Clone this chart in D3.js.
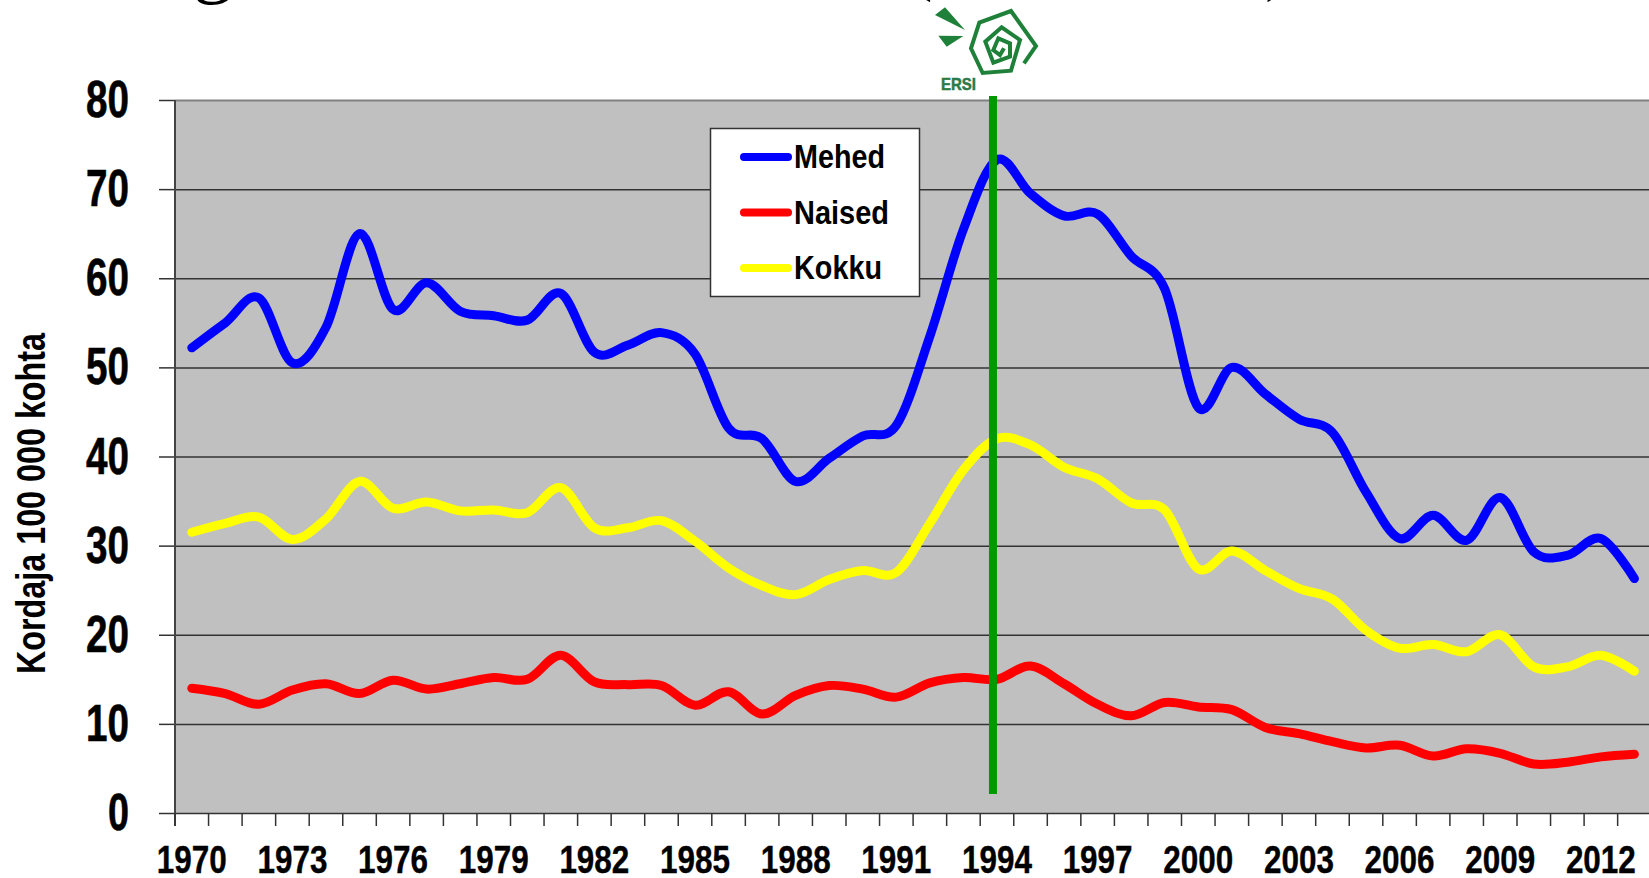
<!DOCTYPE html>
<html><head><meta charset="utf-8">
<style>html,body{margin:0;padding:0;background:#fff;overflow:hidden}svg{display:block}
text{font-family:"Liberation Sans",Arial,sans-serif;font-weight:bold;fill:#000}</style>
<script src="https://cdn.jsdelivr.net/npm/d3@7"></script></head><body>
<script>
const years = d3.range(1970, 2014);
const yTicks = [0,10,20,30,40,50,60,70,80];
const mehed = [52.2,55,57.8,50.5,54.5,65,56.5,59.5,56.3,55.8,55.3,58.3,51.7,52.5,53.9,51.5,43.2,42,37.2,39.8,42.3,43.5,53.5,65.5,73.3,69.5,67,67.2,62.5,58.8,45.5,50,47,44.2,42.7,36,30.8,33.4,30.6,35.4,29.3,28.9,30.8,26.3];
const naised = [14,13.4,12.2,13.8,14.5,13.4,14.9,13.9,14.5,15.2,15,17.7,14.7,14.4,14.3,12.1,13.6,11.1,13.2,14.3,13.9,13,14.6,15.2,15,16.5,14.5,12.2,10.9,12.4,11.9,11.6,9.6,8.9,8,7.3,7.6,6.4,7.2,6.7,5.5,5.7,6.3,6.6];
const kokku = [31.5,32.5,33.2,30.7,33,37.2,34.2,34.9,33.9,34,33.7,36.5,32,32,32.8,30.5,27.5,25.5,24.5,26.2,27.2,27,32.5,38.5,42,41.3,38.8,37.5,34.8,34,27.4,29.4,27.2,25.2,24,20.5,18.5,18.9,18.1,20,16.4,16.4,17.7,15.9];
const seriesNames = ["Mehed","Naised","Kokku"];
const seriesColors = ["#0000ff","#ff0000","#ffff00"];
const seriesValues = [mehed,naised,kokku];
const markerYear = 1994;

const W=1649,H=878,L=175,T=100,B=813,bw=33.55;
const svg=d3.select("body").append("svg").attr("width",W).attr("height",H);
const x=d3.scaleBand().domain(years).range([L,L+bw*years.length]);
const y=d3.scaleLinear().domain([0,80]).range([B,T]);

function fit(sel,len){return sel.attr("textLength",len).attr("lengthAdjust","spacingAndGlyphs");}

// clipped remains of the slide title
const serif=(s,t,px,py)=>s.append("text").attr("x",px).attr("y",py).style("font-family","Liberation Serif").style("font-weight","normal").style("font-size","80px").text(t);
serif(svg,"g",193,-12);
serif(svg,"(",906,-15);
serif(svg,")",1265,-15);

svg.append("rect").attr("x",L).attr("y",T).attr("width",W-L).attr("height",B-T).attr("fill","#c0c0c0");

// grid and value axis
const gy=svg.append("g").attr("transform",`translate(${L},0)`).call(d3.axisLeft(y).tickValues(yTicks).tickSize(16).tickFormat(""));
gy.select(".domain").remove();
gy.selectAll("line").attr("stroke","#333").attr("stroke-width",1.5);
svg.append("g").selectAll("line").data(yTicks).join("line")
 .attr("x1",L).attr("x2",W).attr("y1",d=>y(d)+.5).attr("y2",d=>y(d)+.5)
 .attr("stroke",d=>d===80?"#808080":"#333").attr("stroke-width",d=>d===80?2:1.5);
svg.append("line").attr("x1",L).attr("x2",L).attr("y1",T).attr("y2",B+13).attr("stroke","#444").attr("stroke-width",2);
svg.selectAll("text.yl").data(yTicks).join("text").attr("class","yl")
 .attr("x",d=>129).attr("y",d=>y(d)+17).attr("text-anchor","end").style("font-size","51px")
 .style("stroke","#000").style("stroke-width",.6)
 .text(d=>d).call(s=>s.attr("textLength",d=>d===0?21:43).attr("lengthAdjust","spacingAndGlyphs"));

// category axis
svg.append("g").selectAll("line").data(years.concat(2014)).join("line")
 .attr("x1",d=>L+(d-1970)*bw).attr("x2",d=>L+(d-1970)*bw).attr("y1",B).attr("y2",B+13)
 .attr("stroke","#333").attr("stroke-width",1.5);
svg.selectAll("text.xl").data(years.filter((d,i)=>i<24?i%3===0:(i-24)%3===0)).join("text").attr("class","xl")
 .attr("x",d=>x(d)+bw/2).attr("y",B+60).attr("text-anchor","middle").style("font-size","39px")
 .style("stroke","#000").style("stroke-width",.4)
 .text(d=>d).call(fit,70);

// series
const line=d3.line().x((d,i)=>x(years[i])+bw/2).y(d=>y(d)).curve(d3.curveCatmullRom.alpha(0));
svg.append("g").selectAll("path").data(seriesValues).join("path")
 .attr("d",line).attr("fill","none").attr("stroke",(d,i)=>seriesColors[i])
 .attr("stroke-width",9).attr("stroke-linecap","round").attr("stroke-linejoin","round");

// marker line
svg.append("line").attr("x1",x(markerYear)+bw/2-4).attr("x2",x(markerYear)+bw/2-4).attr("y1",96).attr("y2",794)
 .attr("stroke","#009900").attr("stroke-width",8);

// legend
svg.append("rect").attr("x",710.5).attr("y",128.5).attr("width",209).attr("height",168).attr("fill","#fff").attr("stroke","#333").attr("stroke-width",1.5);
const lg=svg.append("g").selectAll("g").data(seriesNames).join("g");
lg.append("line").attr("x1",744).attr("x2",788).attr("y1",(d,i)=>157+i*55.5).attr("y2",(d,i)=>157+i*55.5)
 .attr("stroke",(d,i)=>seriesColors[i]).attr("stroke-width",8).attr("stroke-linecap","round");
lg.append("text").attr("x",794).attr("y",(d,i)=>168+i*55.5).style("font-size","34px").text(d=>d)
 .attr("textLength",(d,i)=>[91,95,88][i]).attr("lengthAdjust","spacingAndGlyphs");

// axis title
fit(svg.append("text").attr("transform","translate(45,674) rotate(-90)").style("font-size","40px").text("Kordaja 100 000 kohta"),341);

// logo
const logo=svg.append("g").attr("transform","translate(900,0) scale(.3333)");
const logoGreen="#1f8139";
logo.append("path").attr("d","M105,45L135,22L195,90Z M115,107L190,108L140,140Z").attr("fill",logoGreen);
logo.append("path").attr("d","M372,190L408,138L333,33L238,68L213,145L248,219L333,212L360,120L305,82L256,125L280,188L330,170L330,130L295,115L280,150L300,165L312,145")
 .attr("fill","none").attr("stroke",logoGreen).attr("stroke-width",12);
fit(svg.append("text").attr("x",941).attr("y",90).style("font-size","17px").style("fill","#2a7a4a").style("stroke","#2a7a4a").style("stroke-width",.5).text("ERSI"),35);
</script></body></html>
